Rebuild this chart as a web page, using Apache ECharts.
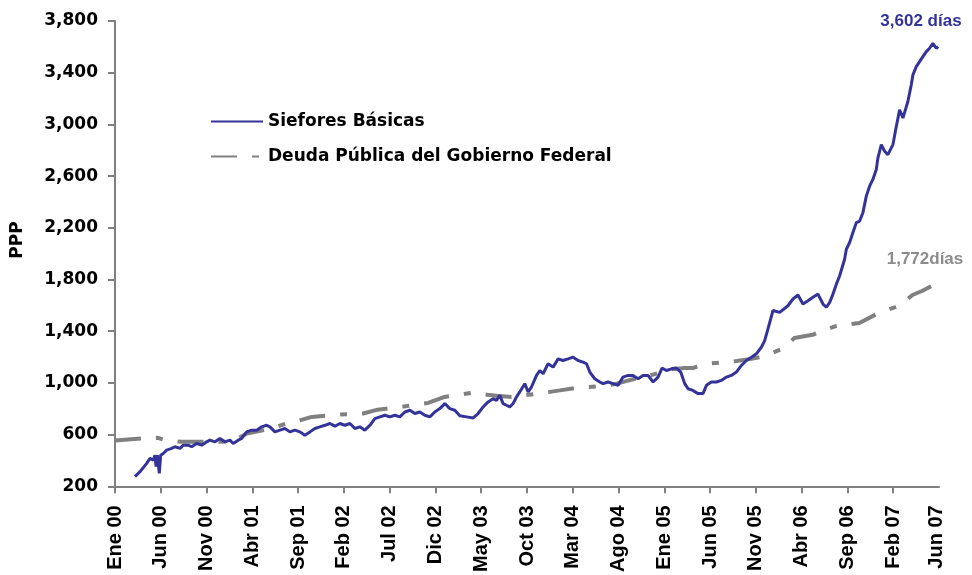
<!DOCTYPE html>
<html>
<head>
<meta charset="utf-8">
<script src="https://cdn.jsdelivr.net/npm/echarts@6/dist/echarts.min.js"></script>
<style>html,body{margin:0;padding:0;background:#fff}#c{width:972px;height:575px}</style>
</head>
<body>
<div id="c"></div>
<script>
// x values are months elapsed since Ene 00
const tickMonths = [0,5,10,15,20,25,30,35,40,45,50,55,60,65,70,75,80,85];
const labelMonths = [0,5,10,15,20,25,30,35,40,45,50,55,60,65,70,75,80,85,89.7];
const tickLabels = ["Ene 00","Jun 00","Nov 00","Abr 01","Sep 01","Feb 02","Jul 02","Dic 02","May 03","Oct 03","Mar 04","Ago 04","Ene 05","Jun 05","Nov 05","Abr 06","Sep 06","Feb 07","Jun 07"];
const seriesNames = ["Siefores Básicas","Deuda Pública del Gobierno Federal"];

const sieforesMonths = [2.18,2.73,3.46,3.82,4.01,4.18,4.37,4.48,4.62,4.84,4.99,5.27,5.64,6.19,6.55,7.10,7.46,8.00,8.37,8.92,9.47,10.01,10.37,10.92,11.46,12.01,12.55,12.91,13.46,13.83,14.38,14.92,15.47,16.02,16.56,16.92,17.47,18.01,18.56,19.10,19.65,20.20,20.74,21.29,21.83,22.38,22.93,23.47,24.02,24.56,25.11,25.66,26.20,26.75,27.29,27.84,28.38,28.93,29.48,30.02,30.57,31.11,31.66,32.21,32.75,33.30,33.84,34.39,34.93,35.48,36.03,36.57,37.12,37.66,38.40,39.12,39.66,40.21,40.75,41.30,41.67,42.03,42.39,42.76,43.12,43.48,43.85,44.21,44.76,45.12,45.49,46.04,46.40,46.76,47.30,47.85,48.40,48.94,49.49,50.03,50.58,51.12,51.50,51.86,52.40,52.95,53.31,53.85,54.40,54.95,55.49,56.04,56.58,57.13,57.67,58.22,58.77,59.31,59.75,60.23,60.78,61.32,61.79,62.23,62.59,63.13,63.68,64.22,64.60,65.14,65.69,66.23,66.78,67.32,67.87,68.42,68.96,69.51,70.05,70.60,70.96,71.32,71.87,72.60,73.50,74.05,74.60,75.14,75.69,76.23,76.78,77.33,77.70,78.06,78.42,78.79,79.15,79.69,79.88,80.24,80.60,80.97,81.33,81.69,82.06,82.42,82.78,83.15,83.33,83.70,84.06,84.42,84.97,85.34,85.70,86.06,86.60,86.97,87.15,87.52,87.88,88.24,88.61,88.97,89.33,89.70,89.90];
const sieforesValues = [275,313,377,416,429,403,441,352,441,300,441,454,480,493,506,493,518,518,506,531,518,544,557,544,570,544,557,531,557,570,621,634,634,660,672,660,621,634,647,621,634,621,595,621,647,660,672,686,665,686,672,686,647,660,634,672,724,737,750,737,750,737,775,788,763,775,750,737,775,801,840,801,788,745,737,729,763,814,853,878,865,904,840,827,814,840,891,930,994,930,968,1058,1096,1071,1148,1122,1186,1173,1186,1199,1173,1161,1148,1084,1032,1007,994,1007,994,981,1045,1058,1058,1032,1058,1058,1007,1045,1115,1096,1109,1115,1084,994,955,942,917,917,981,1007,1007,1019,1045,1058,1084,1135,1173,1199,1225,1276,1327,1418,1560,1546,1597,1649,1680,1610,1636,1662,1687,1610,1585,1623,1687,1764,1829,1957,2034,2086,2163,2240,2252,2317,2445,2522,2574,2651,2741,2844,2792,2766,2844,2985,3113,3049,3177,3306,3383,3447,3486,3524,3563,3589,3627,3589,3602];

const deudaMonths = [0,2.9,4.7,5.5,7.3,10.2,12.7,14.4,17.1,19.1,19.7,21.5,24.6,27.1,28.7,31.7,34.2,36.0,39.0,40.7,41.7,43.3,46.2,48.6,50.4,53.5,54.8,56.8,57.6,60.6,62.2,63.1,64.7,67.9,69.5,70.4,71.8,73.1,74.2,76.2,77.0,78.8,81.3,83.2,83.8,85.7,87.1,88.2,89.8];
const deudaValues = [554,570,575,557,544,544,544,608,647,695,700,737,755,763,793,819,845,891,924,909,901,891,917,942,961,976,994,1032,1038,1104,1115,1115,1148,1169,1186,1199,1233,1270,1348,1372,1395,1441,1464,1533,1551,1597,1680,1713,1772];

const annotSiefores = "3,602 días";
const annotDeuda = "1,772días";

const pair = (xs, ys) => xs.map((x, i) => [x, ys[i]]);

const chart = echarts.init(document.getElementById('c'));
const axisGray = '#808080';
chart.setOption({
  animation: false,
  backgroundColor: '#fff',
  grid: { left: 115, right: 33, top: 21, bottom: 87 },
  legend: {
    orient: 'vertical', left: 205, top: 108,
    itemWidth: 52, itemHeight: 16, itemGap: 18,
    itemStyle: { opacity: 0 },
    textStyle: { fontFamily: 'DejaVu Sans', fontWeight: 'bold', fontSize: 17, color: '#000' },
    data: seriesNames
  },
  xAxis: {
    type: 'value', min: 0, max: 90,
    splitLine: { show: false },
    axisLine: { show: true, lineStyle: { color: axisGray, width: 2 } },
    axisTick: { show: true, customValues: tickMonths, length: 7, lineStyle: { color: axisGray, width: 2 } },
    axisLabel: {
      customValues: labelMonths, rotate: 90, margin: 19,
      fontFamily: 'Liberation Sans', fontWeight: 'bold', fontSize: 20, color: '#000',
      formatter: v => { const i = labelMonths.findIndex(m => Math.abs(m - v) < 1e-6); return i >= 0 ? tickLabels[i] : ''; }
    }
  },
  yAxis: {
    type: 'value', min: 200, max: 3800, interval: 400,
    splitLine: { show: false },
    axisLine: { show: true, lineStyle: { color: axisGray, width: 2 } },
    axisTick: { show: true, length: 7, lineStyle: { color: axisGray, width: 2 } },
    axisLabel: {
      margin: 17, fontFamily: 'DejaVu Sans', fontWeight: 'bold', fontSize: 17, color: '#000',
      formatter: v => v.toLocaleString('en-US')
    }
  },
  graphic: [
    { type: 'text', x: 18, y: 240, rotation: Math.PI / 2,
      style: { text: 'PPP', fill: '#000', font: 'bold 17px "DejaVu Sans"', align: 'center', verticalAlign: 'middle' } },
    { type: 'text', x: 921, y: 21,
      style: { text: annotSiefores, fill: '#333399', font: 'bold 17px "Liberation Sans"', align: 'center', verticalAlign: 'middle' } },
    { type: 'text', x: 925, y: 259,
      style: { text: annotDeuda, fill: '#8c8c8c', font: 'bold 17px "Liberation Sans"', align: 'center', verticalAlign: 'middle' } }
  ],
  series: [
    { name: seriesNames[0], type: 'line', data: pair(sieforesMonths, sieforesValues),
      showSymbol: false, symbol: 'none', z: 3,
      lineStyle: { color: '#333399', width: 3 }, itemStyle: { color: '#333399' } },
    { name: seriesNames[1], type: 'line', data: pair(deudaMonths, deudaValues),
      showSymbol: false, symbol: 'none', z: 2,
      lineStyle: { color: '#808080', width: 4, type: [26, 15, 7, 15] }, itemStyle: { color: '#808080' } }
  ]
});
</script>
</body>
</html>
